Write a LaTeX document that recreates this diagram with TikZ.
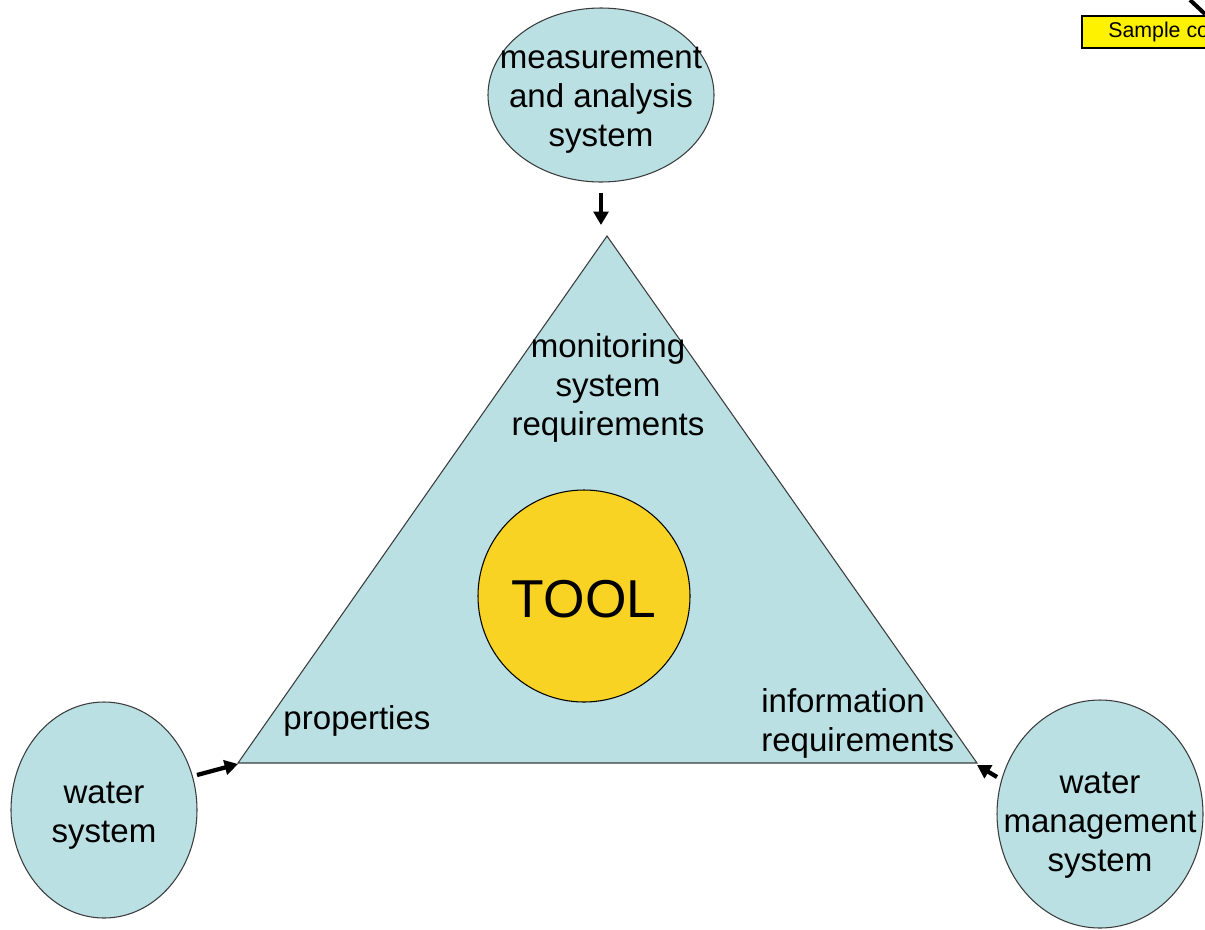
\documentclass[tikz,border=0pt]{standalone}
\usepackage{fontspec}
\setmainfont{Liberation Sans}
\usetikzlibrary{shapes.geometric,arrows.meta}
\definecolor{lblue}{RGB}{186,224,227}
\definecolor{tyellow}{RGB}{249,211,35}
\definecolor{edgegray}{RGB}{60,60,60}
\begin{document}
\begin{tikzpicture}[x=0.75pt,y=-0.75pt,
  blob/.style={draw=edgegray,line width=0.8pt,fill=lblue,ellipse,inner sep=0pt},
  lbl/.style={align=center,font=\fontsize{24.8pt}{29.25pt}\selectfont,inner sep=0pt},
  conn/.style={-{Triangle[length=10pt,width=11pt]},line width=3.2pt}]
\useasboundingbox (0,0) rectangle (1205,929);
\clip (0,0) rectangle (1205,929);
% triangle
\coordinate (apex) at (607,236);
\coordinate (lv) at (238,763);
\coordinate (rv) at (977,763);
\draw[draw=edgegray,line width=0.8pt,fill=lblue] (apex) -- (lv) -- (rv) -- cycle;
% ellipses
\node[blob,minimum width=169.5pt,minimum height=130.5pt] (measE) at (601,95) {};
\node[lbl] (meas) at (601,100) {measurement\\and analysis\\system};
\node[blob,minimum width=139.5pt,minimum height=162pt] (wsE) at (104,810) {};
\node[lbl] (ws) at (104,816) {water\\system};
\node[blob,minimum width=154.5pt,minimum height=171pt] (wmsE) at (1100,814) {};
\node[lbl] (wms) at (1100,825) {water\\management\\system};
% tool
\node[draw=black,line width=0.8pt,fill=tyellow,circle,minimum size=159pt,inner sep=0pt] (toolC) at (584,596) {};
\node[inner sep=0pt,font=\fontsize{40pt}{48pt}\selectfont] (tool) at (584,599) {TOOL};
% labels
\node[lbl] (msr) at (608,388) {monitoring\\system\\requirements};
\node[lbl] (prop) at (357,721) {properties};
\node[lbl,align=left,anchor=west] (info) at (761,723) {information\\requirements};
% arrows
\coordinate (a1s) at (601,193);
\coordinate (a1e) at (601,225);
\draw[conn] (a1s) -- (a1e);
\coordinate (a2s) at (197,775);
\coordinate (a2e) at (238,764);
\draw[conn] (a2s) -- (a2e);
\coordinate (a3s) at (997,777);
\coordinate (a3e) at (977,765);
\draw[conn] (a3s) -- (a3e);
% sample box
\node[draw=black,line width=1.2pt,fill=yellow,anchor=north west,minimum width=140pt,minimum height=24pt,inner sep=0pt] (sample) at (1081,15) {};
\node[anchor=west,inner sep=0pt,font=\fontsize{16pt}{19pt}\selectfont] (stext) at (1108,32) {Sample comment};
\coordinate (c1) at (1190,0);
\coordinate (c2) at (1205,14);
\draw[line width=3pt] (c1) -- (c2);
\end{tikzpicture}
\end{document}
